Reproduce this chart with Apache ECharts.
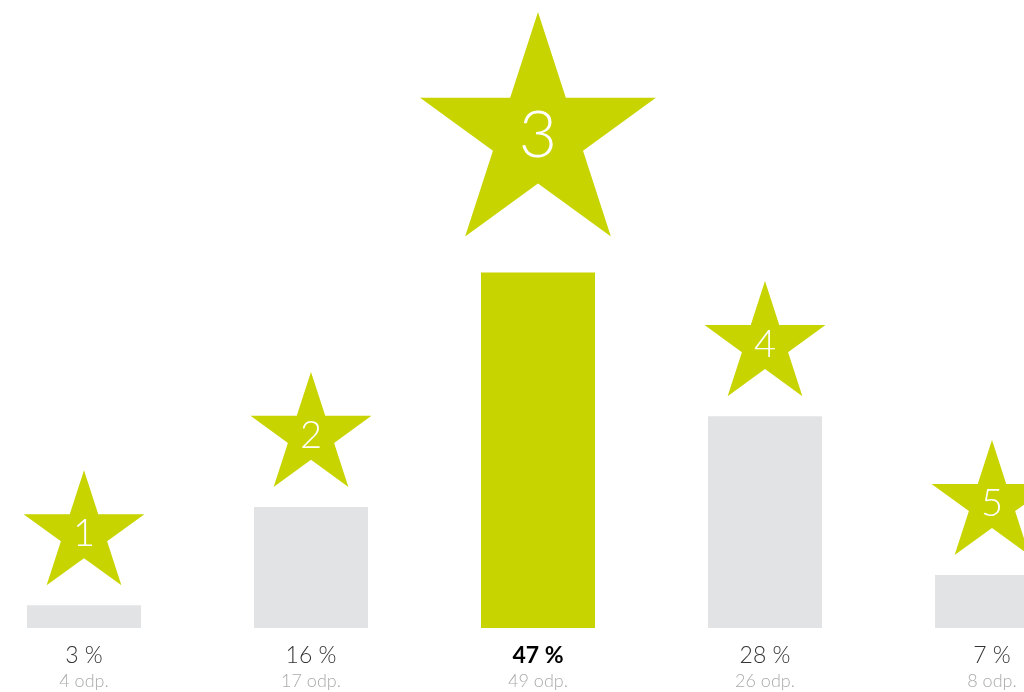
<!DOCTYPE html>
<html>
<head>
<meta charset="utf-8">
<script src="https://cdn.jsdelivr.net/npm/echarts@6/dist/echarts.min.js"></script>
<style>
  html, body { margin: 0; padding: 0; background: #fff; }
  #main { width: 1024px; height: 692px; }
</style>
</head>
<body>
<div id="main"></div>
<script>
// ratings 1..5, share of answers and answer counts
var ratings = ['1', '2', '3', '4', '5'];
var percents = [3, 16, 47, 28, 7];
var counts = [4, 17, 49, 26, 8];
var topIndex = 2;

var green = '#c8d400';
var grey = '#e2e3e5';

var chartDom = document.getElementById('main');
var myChart = echarts.init(chartDom);

function starPoints(cx, cy, R) {
    var r = R * 0.382;
    var pts = [];
    for (var i = 0; i < 10; i++) {
        var rad = i % 2 === 0 ? R : r;
        var a = -Math.PI / 2 + i * Math.PI / 5;
        pts.push([cx + rad * Math.cos(a), cy + rad * Math.sin(a)]);
    }
    return pts;
}

var option = {
    animation: false,
    grid: { left: -29.5, width: 1135, top: 0, bottom: 64, outerBoundsMode: 'none', containLabel: false },
    xAxis: {
        type: 'category',
        data: ratings,
        axisLine: { show: false },
        axisTick: { show: false },
        axisLabel: {
            margin: 15,
            formatter: function (val, idx) {
                var key = idx === topIndex ? 'b' : 'a';
                return '{' + key + '|' + percents[idx] + ' %}\n{c|' + counts[idx] + ' odp.}';
            },
            rich: {
                a: { fontFamily: 'Lato', fontWeight: 300, fontSize: 23, color: '#333', lineHeight: 26 },
                b: { fontFamily: 'Lato', fontWeight: 'bold', fontSize: 23, color: '#000', lineHeight: 26 },
                c: { fontFamily: 'Lato', fontWeight: 300, fontSize: 18, color: '#aaa', lineHeight: 24 }
            }
        }
    },
    yAxis: {
        type: 'value',
        min: 0,
        max: 83,
        show: false,
        splitLine: { show: false }
    },
    series: [
        {
            type: 'bar',
            barWidth: 114,
            data: percents.map(function (v, i) {
                return { value: v, itemStyle: { color: i === topIndex ? green : grey } };
            })
        },
        {
            type: 'custom',
            clip: false,
            z: 3,
            data: percents.map(function (v, i) { return [i, v]; }),
            renderItem: function (params, api) {
                var idx = params.dataIndex;
                var p = api.coord([api.value(0), api.value(1)]);
                var big = idx === topIndex;
                var R = big ? 124 : 63.6;
                var gap = big ? 36 : 20;
                var cy = p[1] - gap - 0.809 * R;
                return {
                    type: 'group',
                    children: [
                        {
                            type: 'polygon',
                            shape: { points: starPoints(p[0], cy, R) },
                            style: { fill: green }
                        },
                        {
                            type: 'text',
                            x: p[0],
                            y: cy,
                            style: {
                                text: ratings[idx],
                                fill: '#fff',
                                font: '300 ' + (big ? 66 : 38) + 'px Lato',
                                align: 'center',
                                verticalAlign: 'middle'
                            }
                        }
                    ]
                };
            }
        }
    ]
};

option && myChart.setOption(option);
</script>
</body>
</html>
